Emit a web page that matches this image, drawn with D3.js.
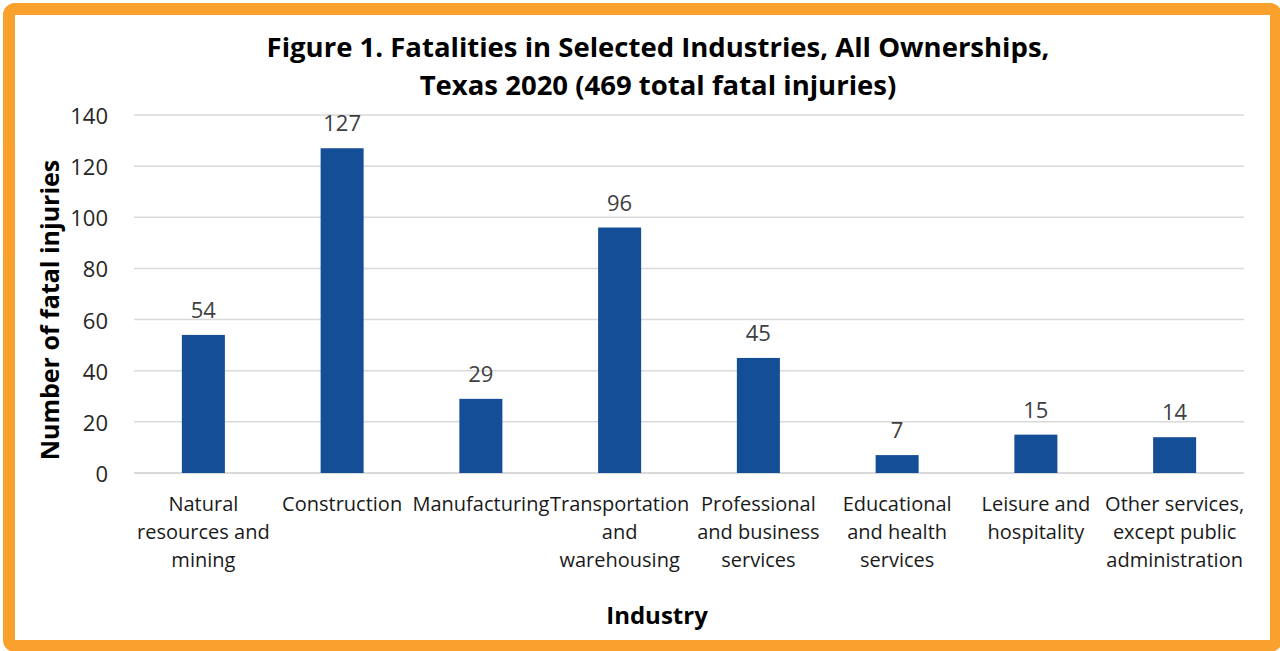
<html>
<head>
    <meta charset="UTF-8" />
    <title>Fatalities in Selected Industries</title>
    <script src="https://d3js.org/d3.v7.min.js"></script>
    <style>
        body { margin: 0; background: white; }
        text { font-family: "Open Sans", "Noto Sans", sans-serif; }
    </style>
</head>
<body>
    <svg id="chart" width="1280" height="651"></svg>
    <script>
        // data
        const industries = ["Natural resources and mining", "Construction", "Manufacturing",
            "Transportation and warehousing", "Professional and business services",
            "Educational and health services", "Leisure and hospitality",
            "Other services, except public administration"];
        const fatalities = [54, 127, 29, 96, 45, 7, 15, 14];
        const labelLines = [
            ["Natural", "resources and", "mining"],
            ["Construction"],
            ["Manufacturing"],
            ["Transportation", "and", "warehousing"],
            ["Professional", "and business", "services"],
            ["Educational", "and health", "services"],
            ["Leisure and", "hospitality"],
            ["Other services,", "except public", "administration"]
        ];
        const yTicks = [0, 20, 40, 60, 80, 100, 120, 140];

        let svg = d3.select("svg#chart");
        const width = +svg.attr("width");
        const height = +svg.attr("height");

        // orange frame
        svg.append("rect")
            .attr("x", 9).attr("y", 9)
            .attr("width", width - 13).attr("height", height - 14)
            .attr("rx", 6)
            .attr("fill", "white")
            .attr("stroke", "#F9A12C")
            .attr("stroke-width", 12);

        const margin = {top: 115, right: 36, bottom: 178, left: 134};
        const chartWidth = width - margin.left - margin.right;
        const chartHeight = height - margin.top - margin.bottom;
        let chartArea = svg.append("g")
            .attr("transform", `translate(${margin.left},${margin.top})`);

        const x = d3.scaleBand().domain(industries).range([0, chartWidth]).paddingInner(0.69).paddingOuter(0.345);
        const y = d3.scaleLinear().domain([0, 140]).range([chartHeight, 0]);

        // gridlines
        chartArea.selectAll("line.grid").data(yTicks).join("line")
            .attr("class", "grid")
            .attr("x1", 0).attr("x2", chartWidth)
            .attr("y1", d => y(d)).attr("y2", d => y(d))
            .attr("stroke", "#d9d9d9")
            .attr("stroke-width", d => d == 0 ? 2 : 1.5);

        // y tick labels
        chartArea.selectAll("text.ytick").data(yTicks).join("text")
            .attr("class", "ytick")
            .attr("x", -26)
            .attr("y", d => y(d))
            .attr("text-anchor", "end")
            .attr("dominant-baseline", "central")
            .attr("font-size", "22px")
            .attr("fill", "#262626")
            .text(d => d);

        // bars
        chartArea.selectAll("rect.bar").data(fatalities).join("rect")
            .attr("class", "bar")
            .attr("x", (d, i) => x(industries[i]))
            .attr("y", d => y(d))
            .attr("width", x.bandwidth())
            .attr("height", d => chartHeight - y(d))
            .attr("fill", "#134E96");

        // value labels
        chartArea.selectAll("text.value").data(fatalities).join("text")
            .attr("class", "value")
            .attr("x", (d, i) => x(industries[i]) + x.bandwidth() / 2)
            .attr("y", d => y(d) - 17)
            .attr("text-anchor", "middle")
            .attr("font-size", "22px")
            .attr("fill", "#404040")
            .text(d => d);

        // category labels
        industries.forEach((name, i) => {
            let t = chartArea.append("text")
                .attr("text-anchor", "middle")
                .attr("font-size", "20px")
                .attr("fill", "#1a1a1a");
            labelLines[i].forEach((line, j) => {
                t.append("tspan")
                    .attr("x", x(name) + x.bandwidth() / 2)
                    .attr("y", chartHeight + 38 + j * 28)
                    .text(line);
            });
        });

        // title
        const titleLines = ["Figure 1. Fatalities in Selected Industries, All Ownerships,",
                            "Texas 2020 (469 total fatal injuries)"];
        titleLines.forEach((line, j) => {
            svg.append("text")
                .attr("x", 658)
                .attr("y", 57 + j * 38)
                .attr("text-anchor", "middle")
                .attr("font-size", "27.5px")
                .attr("font-weight", "bold")
                .attr("fill", "#000")
                .text(line);
        });

        // axis titles
        svg.append("text")
            .attr("transform", `translate(59, 310) rotate(-90)`)
            .attr("text-anchor", "middle")
            .attr("font-size", "25px")
            .attr("font-weight", "bold")
            .text("Number of fatal injuries");

        svg.append("text")
            .attr("x", 657)
            .attr("y", 624)
            .attr("text-anchor", "middle")
            .attr("font-size", "24px")
            .attr("font-weight", "bold")
            .text("Industry");
    </script>
</body>
</html>
